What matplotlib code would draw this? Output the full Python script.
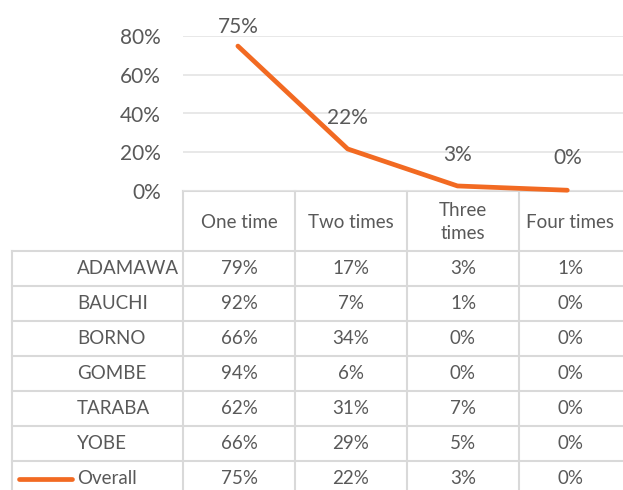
import matplotlib
matplotlib.use("Agg")
import matplotlib.pyplot as plt
from matplotlib.lines import Line2D

categories = ["One time", "Two times", "Three\ntimes", "Four times"]
regions = ["ADAMAWA", "BAUCHI", "BORNO", "GOMBE", "TARABA", "YOBE", "Overall"]
adamawa = [79, 17, 3, 1]
bauchi = [92, 7, 1, 0]
borno = [66, 34, 0, 0]
gombe = [94, 6, 0, 0]
taraba = [62, 31, 7, 0]
yobe = [66, 29, 5, 0]
overall = [75, 22, 3, 0]
overall_line = [0.748, 0.217, 0.026, 0.004]
yticks = [0, 0.2, 0.4, 0.6, 0.8]

rows = [adamawa, bauchi, borno, gombe, taraba, yobe, overall]

W, H = 623, 490
FONT = "Lato"
TXT = "#595959"
GRID = "#E4E4E4"
BORDER = "#D9D9D9"
ORANGE = "#F26A22"
FS = 13.5
FS_BIG = 15

fig = plt.figure(figsize=(W / 100, H / 100), dpi=100)

# overlay axes in pixel coordinates for the data table
tab = fig.add_axes([0, 0, 1, 1], zorder=0)
tab.set_xlim(0, W)
tab.set_ylim(H, 0)
tab.axis("off")

# main chart axes
x0, x1 = 183, 631
ytop, ybot = 36, 191
ax = fig.add_axes([x0 / W, (H - ybot) / H, (x1 - x0) / W, (ybot - ytop) / H], zorder=2)
ax.patch.set_alpha(0)
n = len(categories)
xs = list(range(n))
ax.set_xlim(-0.5, n - 0.5 + (x1 - 622) / 112)
ax.set_ylim(0, 0.8)
ax.set_yticks(yticks)
ax.set_yticklabels([f"{int(round(t * 100))}%" for t in yticks], fontsize=FS_BIG,
                   color=TXT, family=FONT)
ax.tick_params(axis="y", length=0, pad=16)
ax.set_xticks([])
for s in ax.spines.values():
    s.set_visible(False)
ax.grid(axis="y", color=GRID, lw=1.2)
ax.set_axisbelow(True)
ax.plot(xs, overall_line, color=ORANGE, lw=3.4, solid_capstyle="round",
        solid_joinstyle="round", clip_on=False, zorder=3)
label_offsets = [14, 22, 22, 23]
for xi, yv, v, off in zip(xs, overall_line, overall, label_offsets):
    ax.annotate(f"{v}%", (xi, yv), xytext=(0, off), textcoords="offset points",
                ha="center", va="center", fontsize=FS_BIG, color=TXT, family=FONT,
                annotation_clip=False)

# table geometry
col_edges = [183, 295, 407, 519, 631]
label_left = 12
header_top, header_bot = 191, 251
row_h = 35
row_tops = [header_bot + i * row_h for i in range(len(regions))]
lw_b = 1.5

# header: top line and vertical lines
tab.plot([col_edges[0], W], [header_top, header_top], color=BORDER, lw=lw_b)
for xe in col_edges[:-1]:
    tab.plot([xe, xe], [header_top, H], color=BORDER, lw=lw_b)
tab.plot([label_left, label_left], [header_bot, H], color=BORDER, lw=lw_b)
for yt in row_tops:
    tab.plot([label_left, W], [yt, yt], color=BORDER, lw=lw_b)

centers = [(col_edges[i] + col_edges[i + 1]) / 2 for i in range(n)]
centers[-1] = (col_edges[3] + 622) / 2
for cx, cat in zip(centers, categories):
    tab.text(cx, (header_top + header_bot) / 2 + 1, cat, ha="center", va="center",
             fontsize=FS, color=TXT, family=FONT, linespacing=1.4)

for yt, name, vals in zip(row_tops, regions, rows):
    cy = yt + row_h / 2
    tab.text(77, cy, name, ha="left", va="center", fontsize=FS, color=TXT, family=FONT)
    for cx, v in zip(centers, vals):
        tab.text(cx, cy, f"{v}%", ha="center", va="center", fontsize=FS,
                 color=TXT, family=FONT)

# legend key for Overall
last_cy = row_tops[-1] + row_h / 2
tab.add_line(Line2D([19, 72], [last_cy, last_cy], color=ORANGE, lw=3.4,
                    solid_capstyle="round"))

fig.savefig("out.png", dpi=100)
